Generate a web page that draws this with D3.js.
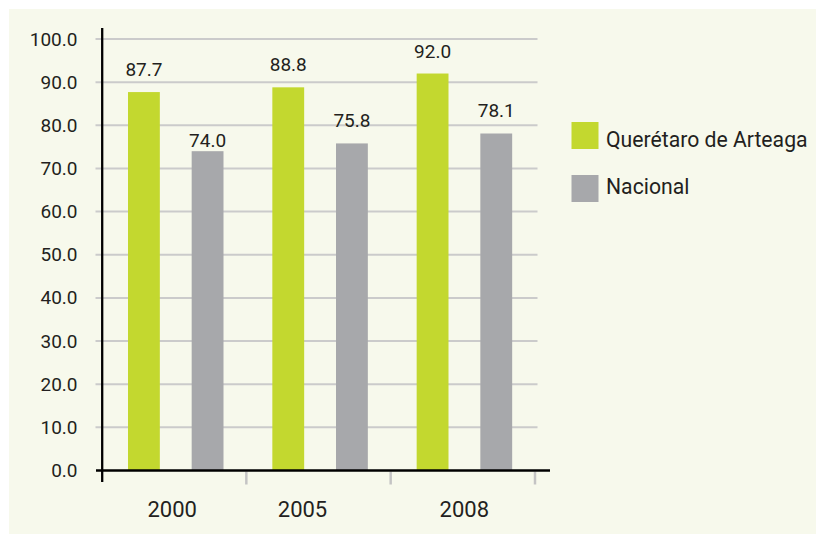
<!DOCTYPE html>
<html>
<head>
<meta charset="utf-8">
<script src="https://cdn.jsdelivr.net/npm/d3@7"></script>
<style>
  html, body { margin: 0; padding: 0; background: #ffffff; }
  svg { display: block; }
  text { font-family: Roboto, "Noto Sans", sans-serif; fill: #231f20; }
</style>
</head>
<body>
<svg id="chart" width="816" height="534"></svg>
<script>
// ---- data ----
const categories = ["2000", "2005", "2008"];
const seriesNames = ["Querétaro de Arteaga", "Nacional"];
const queretaroValues = [87.7, 88.8, 92.0];
const nacionalValues = [74.0, 75.8, 78.1];
const yTicks = [0, 10, 20, 30, 40, 50, 60, 70, 80, 90, 100];

// ---- style / layout ----
const colors = ["#c3d82f", "#a7a8ab"];
const W = 816, H = 534;
const svg = d3.select("#chart");

// panel background
svg.append("rect").attr("x", 9).attr("y", 9).attr("width", W - 9).attr("height", H - 9)
  .attr("fill", "#f7f9ec");

const y = d3.scaleLinear().domain([0, 100]).range([470.5, 39]);
const x0 = d3.scaleBand().domain(categories).range([102, 535]).paddingInner(0).paddingOuter(0);
const x1 = d3.scaleBand().domain(seriesNames).range([26, 121.5]).paddingInner(0.5).paddingOuter(0);

// layout tweaks (not data): label nudges as in the reference
const catLabelNudge = { "2000": -2, "2005": -16, "2008": 1.5 };
const valueLabelLift = 16;
const valueLabelLiftOverride = { "Nacional|2000": 4.5 };

// gridlines
svg.append("g").selectAll("line").data(yTicks.filter(d => d > 0)).join("line")
  .attr("x1", 95.5).attr("x2", 537.5)
  .attr("y1", d => y(d)).attr("y2", d => y(d))
  .attr("stroke", "#cbcbcb").attr("stroke-width", 2);

// y tick labels
svg.append("g").selectAll("text").data(yTicks).join("text")
  .attr("x", 77.5).attr("y", d => y(d) + 6.5)
  .attr("text-anchor", "end")
  .attr("font-size", 19)
  .text(d => d3.format(".1f")(d));

// bars
const rows = categories.map((c, i) => ({ cat: c, values: [queretaroValues[i], nacionalValues[i]] }));
const groups = svg.append("g").selectAll("g").data(rows).join("g")
  .attr("transform", d => `translate(${x0(d.cat)},0)`);

groups.selectAll("rect").data(d => d.values.map((v, j) => ({ cat: d.cat, name: seriesNames[j], v, j })))
  .join("rect")
  .attr("x", d => x1(d.name))
  .attr("width", x1.bandwidth())
  .attr("y", d => y(d.v))
  .attr("height", d => y(0) - y(d.v))
  .attr("fill", d => colors[d.j]);

groups.selectAll("text").data(d => d.values.map((v, j) => ({ cat: d.cat, name: seriesNames[j], v, j })))
  .join("text")
  .attr("x", d => x1(d.name) + x1.bandwidth() / 2)
  .attr("y", d => {
    const k = (d.j === 1 ? "Nacional" : "Q") + "|" + d.cat;
    const lift = valueLabelLiftOverride[k] !== undefined ? valueLabelLiftOverride[k] : valueLabelLift;
    return y(d.v) - lift;
  })
  .attr("text-anchor", "middle")
  .attr("font-size", 19)
  .text(d => d3.format(".1f")(d.v));

// x-axis separator ticks (band boundaries)
svg.append("g").selectAll("line").data(categories).join("line")
  .attr("x1", d => x0(d) + x0.bandwidth()).attr("x2", d => x0(d) + x0.bandwidth())
  .attr("y1", 471.5).attr("y2", 484.5)
  .attr("stroke", "#c4c4c4").attr("stroke-width", 2.5);

// category labels
svg.append("g").selectAll("text").data(categories).join("text")
  .attr("x", d => x0(d) + x0.bandwidth() / 2 + (catLabelNudge[d] || 0))
  .attr("y", 516.5)
  .attr("text-anchor", "middle")
  .attr("font-size", 22)
  .text(d => d);

// axes lines
svg.append("line").attr("x1", 102.2).attr("x2", 102.2).attr("y1", 28).attr("y2", 482)
  .attr("stroke", "#000").attr("stroke-width", 2.3);
svg.append("line").attr("x1", 96).attr("x2", 550).attr("y1", y(0)).attr("y2", y(0))
  .attr("stroke", "#000").attr("stroke-width", 2.3);

// legend
const legend = svg.append("g").selectAll("g").data(seriesNames).join("g");
legend.append("rect")
  .attr("x", 571.5).attr("y", (d, i) => 122 + i * 53)
  .attr("width", 27).attr("height", 27).attr("fill", (d, i) => colors[i]);
legend.append("text")
  .attr("x", 606).attr("y", (d, i) => 146.7 + i * 47.6)
  .attr("font-size", 21.2).text(d => d);
</script>
</body>
</html>
